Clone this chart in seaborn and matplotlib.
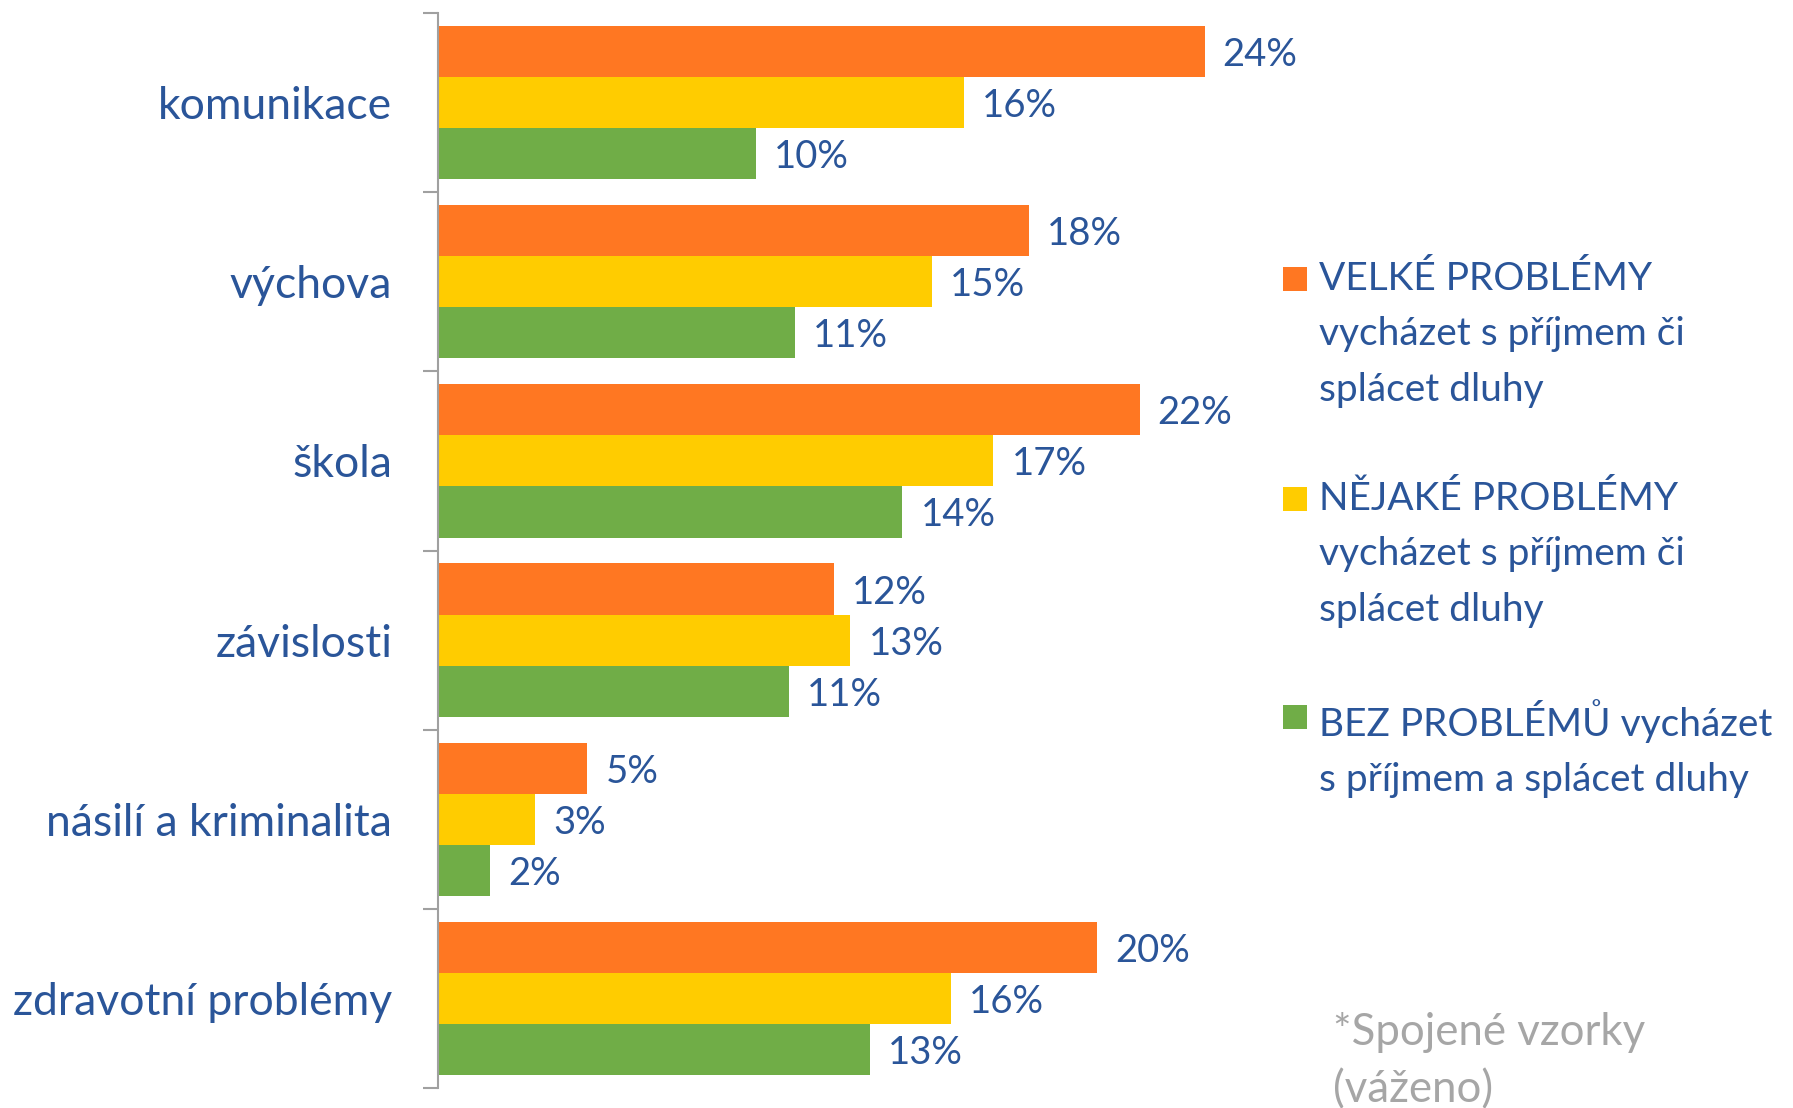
import pandas as pd
import matplotlib.pyplot as plt
import seaborn as sns
from matplotlib.patches import Rectangle
from matplotlib.ticker import FixedLocator

categories = ['komunikace', 'výchova', 'škola', 'závislosti', 'násilí a kriminalita', 'zdravotní problémy']
series = ['VELKÉ PROBLÉMY\nvycházet s příjmem či\nsplácet dluhy',
          'NĚJAKÉ PROBLÉMY\nvycházet s příjmem či\nsplácet dluhy',
          'BEZ PROBLÉMŮ vycházet\ns příjmem a splácet dluhy']
velke = [23.6, 18.2, 21.6, 12.2, 4.6, 20.3]
nejake = [16.2, 15.2, 17.1, 12.7, 3.0, 15.8]
bez = [9.8, 11.0, 14.3, 10.8, 1.6, 13.3]
colors = ['#FF7722', '#FFCC00', '#70AD47']
note = '*Spojené vzorky\n(váženo)'

blue = '#2A5599'

sns.set_style('white')
plt.rcParams['font.family'] = ['Lato', 'DejaVu Sans']

df = pd.DataFrame({
    'kategorie': categories * 3,
    'skupina': [series[0]] * 6 + [series[1]] * 6 + [series[2]] * 6,
    'hodnota': velke + nejake + bez,
})

fig = plt.figure(figsize=(17.93, 11.08), dpi=100)
ax = fig.add_axes([438 / 1793, 1 - 1088 / 1108, 812 / 1793, 1075 / 1108])

sns.barplot(data=df, y='kategorie', x='hodnota', hue='skupina', orient='h',
            palette=colors, saturation=1, width=0.855, linewidth=0, ax=ax, legend=False)

for cont in ax.containers:
    vals = [b.get_width() for b in cont]
    txts = ax.bar_label(cont, labels=[f'{v:.0f}%' for v in vals], padding=13,
                        fontsize=27.5, color=blue)
    for t in txts:
        t.set_va('center_baseline')

ax.set_xlim(0, 25)
ax.set_ylim(5.5, -0.5)
ax.set_xlabel('')
ax.set_ylabel('')
ax.set_xticks([])
for s in ['top', 'right', 'bottom']:
    ax.spines[s].set_visible(False)
ax.spines['left'].set_color('#A0A0A0')
ax.spines['left'].set_linewidth(1.5)

ax.yaxis.set_minor_locator(FixedLocator([i - 0.5 for i in range(7)]))
ax.tick_params(axis='y', which='minor', length=11, width=1.5, color='#A0A0A0', left=True)
ax.tick_params(axis='y', which='major', length=0, pad=33, labelsize=32, labelcolor=blue)

# legenda ručně
legend_y = [279, 499, 717]
for y, c, lab in zip(legend_y, colors, series):
    fig.patches.append(Rectangle((1283 / 1793, 1 - (y + 12) / 1108), 24 / 1793, 24 / 1108,
                                 transform=fig.transFigure, facecolor=c, edgecolor='none'))
    fig.text(1319 / 1793, 1 - (y - 18) / 1108, lab, fontsize=28, color=blue,
             va='top', ha='left', linespacing=1.67)

fig.text(1333 / 1793, 1 - 1012 / 1108, note, fontsize=31.5, color='#A6A6A6',
         va='top', ha='left', linespacing=1.49)

plt.savefig('out.png', dpi=100)
